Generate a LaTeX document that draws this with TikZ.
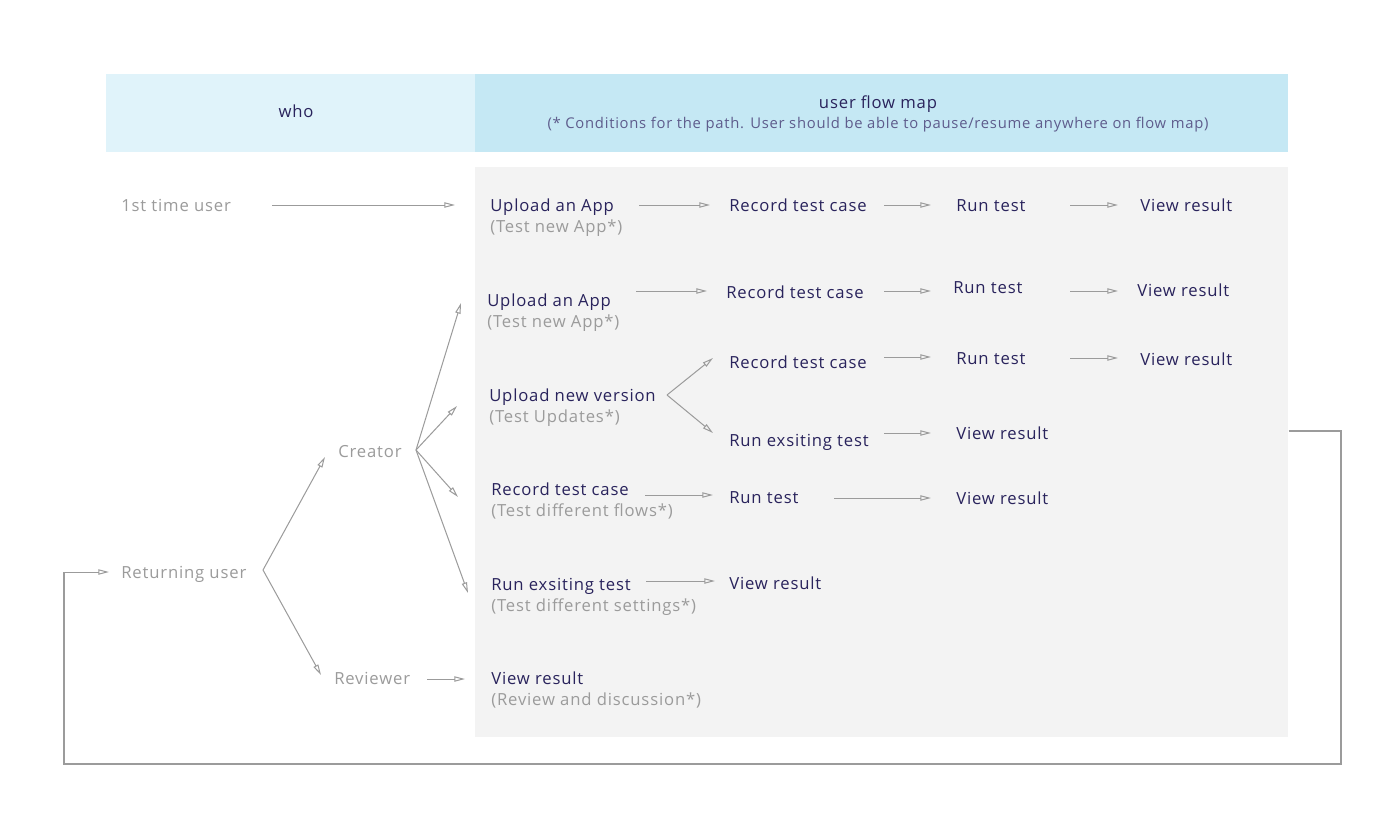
\documentclass[tikz,border=0pt]{standalone}
\usepackage{fontspec}
\setmainfont{Open Sans}[LetterSpace=5]
\usetikzlibrary{arrows.meta}
\definecolor{navy}{HTML}{29235C}
\definecolor{txtgray}{HTML}{9B9B9B}
\definecolor{lngray}{HTML}{9B9B9B}
\definecolor{subnavy}{HTML}{5E5C8C}
\definecolor{hdrleft}{HTML}{E0F3FA}
\definecolor{hdrright}{HTML}{C5E8F4}
\definecolor{panelgray}{HTML}{F3F3F3}
\tikzset{
  lbl/.style={font=\fontsize{12.5}{14}\selectfont, text=navy, inner sep=0pt, anchor=base west, text height=8.6pt, text depth=2.4pt},
  sub/.style={lbl, text=txtgray},
  who/.style={lbl, text=txtgray},
  hdr/.style={font=\fontsize{12.5}{14}\selectfont, text=navy, inner sep=0pt},
  arr/.style={draw=lngray, line width=0.75pt, -{Triangle[open, length=8pt, width=4pt]}},
  loopline/.style={draw=lngray, line width=1.1pt},
}
\begin{document}
\begin{tikzpicture}[x=0.75pt, y=-0.75pt]
\useasboundingbox (0,0) rectangle (1398,831);
\fill[white] (0,0) rectangle (1398,831);
% header
\node[fill=hdrleft, minimum width=369*0.75pt, minimum height=78*0.75pt, inner sep=0pt, anchor=north west] (hw) at (106,74) {};
\node[fill=hdrright, minimum width=813*0.75pt, minimum height=78*0.75pt, inner sep=0pt, anchor=north west] (hm) at (475,74) {};
\node[hdr] (whot) at (296,111) {who};
\node[hdr] (mapt) at (878,104) {user flow map};
\node[hdr, font=\fontsize{11.1}{13}\selectfont, text=subnavy] (maps) at (878,125) {(* Conditions for the path. User should be able to pause/resume anywhere on flow map)};
% panel
\node[fill=panelgray, minimum width=813*0.75pt, minimum height=570*0.75pt, inner sep=0pt, anchor=north west] (panel) at (475,167) {};

% left column
\node[who] (first) at (121,211.5) {1st time user};
\node[who] (ret) at (121,578.5) {Returning user};
\node[who] (cre) at (338,457.5) {Creator};
\node[who] (rev) at (334,684.5) {Reviewer};

% row 1
\node[lbl] (u1) at (490,211.5) {Upload an App};
\node[sub] (u1s) at (490,232.5) {(Test new App*)};
\node[lbl] (r1) at (729,211.5) {Record test case};
\node[lbl] (t1) at (956,211.5) {Run test};
\node[lbl] (v1) at (1140,211.5) {View result};
% row 2
\node[lbl] (u2) at (487,306.5) {Upload an App};
\node[sub] (u2s) at (487,327.5) {(Test new App*)};
\node[lbl] (r2) at (726,298.5) {Record test case};
\node[lbl] (t2) at (953,293.5) {Run test};
\node[lbl] (v2) at (1137,296.5) {View result};
% row 3
\node[lbl] (n3) at (489,401.5) {Upload new version};
\node[sub] (n3s) at (489,422.5) {(Test Updates*)};
\node[lbl] (r3) at (729,368.5) {Record test case};
\node[lbl] (t3) at (956,364.5) {Run test};
\node[lbl] (v3) at (1140,365.5) {View result};
\node[lbl] (e3) at (729,446.5) {Run exsiting test};
\node[lbl] (v3b) at (956,439.5) {View result};
% row 4
\node[lbl] (r4) at (491,495.5) {Record test case};
\node[sub] (r4s) at (491,516.5) {(Test different flows*)};
\node[lbl] (t4) at (729,503.5) {Run test};
\node[lbl] (v4) at (956,504.5) {View result};
% row 5
\node[lbl] (e5) at (491,590.5) {Run exsiting test};
\node[sub] (e5s) at (491,611.5) {(Test different settings*)};
\node[lbl] (v5) at (729,589.5) {View result};
% row 6
\node[lbl] (v6) at (491,684.5) {View result};
\node[sub] (v6s) at (491,705.5) {(Review and discussion*)};

% branch coordinates
\coordinate (retb) at (263,570);
\coordinate (creb) at (416,450);
\coordinate (n3b) at (667,395);

% straight arrows
\draw[arr] (272,205) -- (455,205);
\draw[arr] (639,205) -- (710,205);
\draw[arr] (884,205) -- (931,205);
\draw[arr] (1070,205) -- (1118,205);
\draw[arr] (636,291) -- (707,291);
\draw[arr] (884,291) -- (931,291);
\draw[arr] (1070,291) -- (1118,291);
\draw[arr] (884,357) -- (931,357);
\draw[arr] (1070,358) -- (1118,358);
\draw[arr] (884,433) -- (931,433);
\draw[arr] (645,495) -- (713,495);
\draw[arr] (834,498) -- (931,498);
\draw[arr] (646,581) -- (715,581);
\draw[arr] (427,679) -- (465,679);
% branches
\draw[arr] (n3b) -- (713,358);
\draw[arr] (n3b) -- (713,433);
\draw[arr] (retb) -- (325,457);
\draw[arr] (retb) -- (321,675);
\draw[arr] (creb) -- (461,303);
\draw[arr] (creb) -- (457,406);
\draw[arr] (creb) -- (458,497);
\draw[arr] (creb) -- (468,593);
% loop back
\draw[loopline] (panel.east |- 0,431) -- (1341,431) -- (1341,764) -- (64,764) -- (64,572);
\draw[arr] (64,572) -- (109,572);
\end{tikzpicture}
\end{document}
